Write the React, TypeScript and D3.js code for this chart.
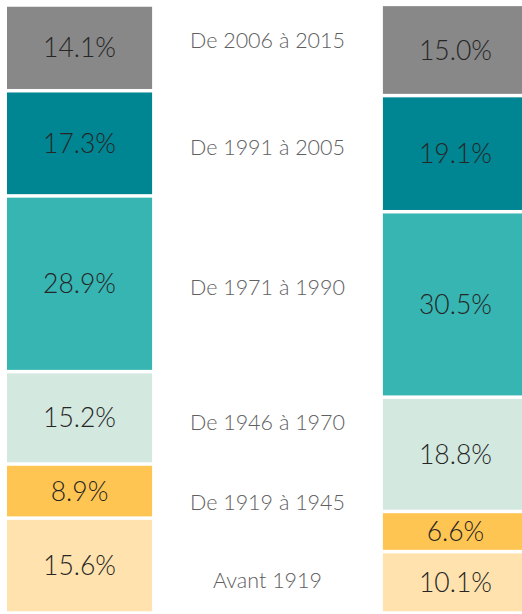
import React from "react";
import * as d3 from "d3";

const categories = [
  "Avant 1919",
  "De 1919 à 1945",
  "De 1946 à 1970",
  "De 1971 à 1990",
  "De 1991 à 2005",
  "De 2006 à 2015",
];
const columns = ["gauche", "droite"];
const leftValues = [15.6, 8.9, 15.2, 28.9, 17.3, 14.1];
const rightValues = [10.1, 6.6, 18.8, 30.5, 19.1, 15.0];
const colors = ["#FFE2AD", "#FFC552", "#D3E8DF", "#36B5B3", "#008592", "#888888"];
// label offsets (px) relative to the centre between both columns' segments
const labelNudge = [6.5, -9, -14, -7, -1.5, -9];

const W = 522;
const H = 614;
const FONT = "Lato, sans-serif";

export default function App() {
  const x = d3
    .scaleBand<string>()
    .domain(columns)
    .range([7, 528])
    .paddingInner(0.614)
    .paddingOuter(0);
  const y = d3.scaleLinear().domain([0, 100]).range([613, 5]);

  const series = [leftValues, rightValues].map((vals) => {
    let acc = 0;
    return vals.map((v) => {
      const s = { y0: acc, y1: acc + v, v };
      acc += v;
      return s;
    });
  });

  const gap = 1.75;
  const midX = ((x("gauche") ?? 0) + x.bandwidth() + (x("droite") ?? 0)) / 2;

  return (
    <svg
      width={W}
      height={H}
      style={{ position: "absolute", left: 0, top: 0, background: "#fff" }}
    >
      {series.map((segs, ci) => {
        const x0 = x(columns[ci]) ?? 0;
        return (
          <g key={ci}>
            {segs.map((s, i) => {
              const top = y(s.y1);
              const bot = y(s.y0);
              return (
                <g key={i}>
                  <rect
                    x={x0}
                    y={top + gap}
                    width={x.bandwidth()}
                    height={Math.max(0, bot - top - 2 * gap)}
                    fill={colors[i]}
                  />
                  <text
                    x={x0 + x.bandwidth() / 2}
                    y={(top + bot) / 2}
                    dy="0.36em"
                    textAnchor="middle"
                    fontFamily={FONT}
                    fontWeight={300}
                    fontSize={26.5}
                    fill="#262626"
                  >
                    {s.v.toFixed(1)}%
                  </text>
                </g>
              );
            })}
          </g>
        );
      })}
      {categories.map((c, i) => {
        const l = series[0][i];
        const r = series[1][i];
        const cy = (y((l.y0 + l.y1) / 2) + y((r.y0 + r.y1) / 2)) / 2;
        return (
          <text
            key={c}
            x={midX}
            y={cy + labelNudge[i]}
            dy="0.36em"
            textAnchor="middle"
            fontFamily={FONT}
            fontWeight={300}
            fontSize={21.5}
            fill="#606060"
          >
            {c}
          </text>
        );
      })}
    </svg>
  );
}
